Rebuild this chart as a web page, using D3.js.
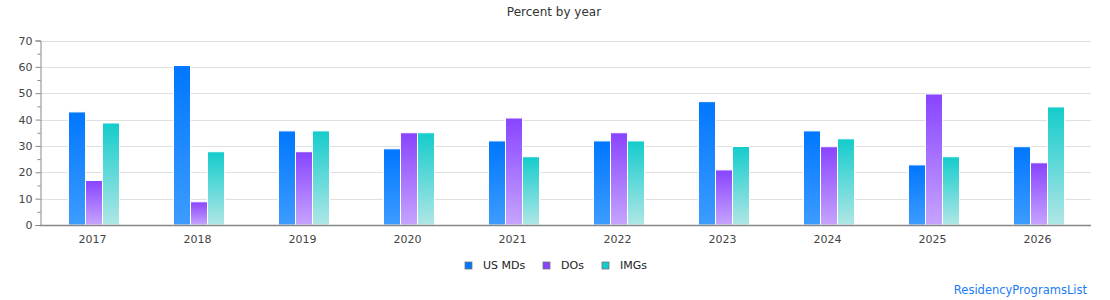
<!DOCTYPE html>
<html>
<head>
<meta charset="utf-8">
<script src="https://cdnjs.cloudflare.com/ajax/libs/d3/7.8.5/d3.min.js"></script>
<style>
  body { margin: 0; background: #fff; }
  text { font-family: "DejaVu Sans", Verdana, sans-serif; }
</style>
</head>
<body>
<script>
// data
var years = ["2017", "2018", "2019", "2020", "2021", "2022", "2023", "2024", "2025", "2026"];
var seriesNames = ["US MDs", "DOs", "IMGs"];
var usMDs = [42.9, 60.5, 35.7, 28.9, 31.9, 31.9, 46.8, 35.7, 22.8, 29.7];
var dOs   = [16.9, 8.8, 27.8, 35.0, 40.6, 35.0, 20.9, 29.7, 49.7, 23.6];
var imgs  = [38.7, 27.8, 35.7, 35.0, 25.9, 31.9, 29.8, 32.7, 25.9, 44.8];
var yTicks = [0, 10, 20, 30, 40, 50, 60, 70];

var width = 1110, height = 300;
var margin = {left: 40, right: 19, top: 40, bottom: 75};

//__colors: top and bottom of each gradient__//
var colors = [
  {top: "#0077ff", bottom: "#3d9cff", key: "#0077ff"},
  {top: "#8844ff", bottom: "#c6a4ff", key: "#8844ff"},
  {top: "#14cccc", bottom: "#b0e6e6", key: "#14cccc"}
];

var svg = d3.select("body").append("svg")
    .attr("width", width)
    .attr("height", height);

var defs = svg.append("defs");
colors.forEach(function(c, i) {
  var g = defs.append("linearGradient")
      .attr("id", "grad" + i)
      .attr("x1", 0).attr("y1", 0).attr("x2", 0).attr("y2", 1);
  g.append("stop").attr("offset", "0%").attr("stop-color", c.top);
  g.append("stop").attr("offset", "100%").attr("stop-color", c.bottom);
});

// band centres line up with the reference group centres
var x = d3.scaleBand()
    .domain(years)
    .range([41.5, 1091.5]);

var y = d3.scaleLinear()
    .domain([0, 70])
    .range([height - margin.bottom, margin.top + 0.5]);

var barW = 17;
var xs = d3.scaleBand()
    .domain(seriesNames)
    .range([-barW * 1.5, barW * 1.5]);

//__title__//
svg.append("text")
    .attr("x", 554)
    .attr("y", 16)
    .attr("text-anchor", "middle")
    .attr("font-size", "12px")
    .attr("fill", "#333")
    .text("Percent by year");

//__grid lines__//
svg.append("g").selectAll("line")
    .data(yTicks.slice(1))
    .enter().append("line")
    .attr("x1", margin.left)
    .attr("x2", width - margin.right)
    .attr("y1", function(d) { return Math.round(y(d)) + 0.5; })
    .attr("y2", function(d) { return Math.round(y(d)) + 0.5; })
    .attr("stroke", "#e0e0e0")
    .attr("stroke-width", 1);

//__bars__//
var series = [usMDs, dOs, imgs];
var groups = svg.append("g").selectAll("g")
    .data(years)
    .enter().append("g")
    .attr("transform", function(d) { return "translate(" + Math.round(x(d) + x.bandwidth() / 2) + ",0)"; });

groups.selectAll("rect")
    .data(function(d, i) { return series.map(function(s, k) { return {k: k, v: s[i]}; }); })
    .enter().append("rect")
    .attr("x", function(d) { return xs(seriesNames[d.k]); })
    .attr("width", barW)
    .attr("y", function(d) { return y(d.v); })
    .attr("height", function(d) { return y(0) - y(d.v); })
    .attr("fill", function(d) { return "url(#grad" + d.k + ")"; })
    .attr("stroke", "#fff")
    .attr("stroke-width", 1);

//__axes__//
var yAxis = d3.axisLeft(y)
    .tickValues(d3.range(0, 71, 5))
    .tickSize(5)
    .tickFormat(function(d) { return d % 10 === 0 ? d : ""; });

var ya = svg.append("g")
    .attr("transform", "translate(" + (margin.left + 0.5) + ",0)")
    .call(yAxis);
ya.select(".domain").attr("stroke", "#888");
ya.selectAll(".tick line").attr("stroke", "#888")
    .attr("x2", function(d) { return d % 10 === 0 ? -5 : -3; });
ya.selectAll(".tick text")
    .attr("font-size", "11px")
    .attr("fill", "#444")
    .attr("x", -8)
    .style("font-family", "DejaVu Sans, sans-serif");

var xAxis = d3.axisBottom(x).tickSize(0).tickPadding(10);
var xa = svg.append("g")
    .attr("transform", "translate(0," + (y(0) + 0.5) + ")")
    .call(xAxis);
xa.select(".domain").attr("stroke", "#888").attr("stroke-width", 1.5)
    .attr("d", "M40,0H1091");
xa.selectAll(".tick text")
    .attr("font-size", "11px")
    .attr("fill", "#444")
    .attr("dx", -1.5)
    .style("font-family", "DejaVu Sans, sans-serif");

//__legend__//
var legendX = [465, 543, 602];
var legend = svg.append("g").selectAll("g")
    .data(seriesNames)
    .enter().append("g")
    .attr("transform", function(d, i) { return "translate(" + legendX[i] + ",262)"; });
legend.append("rect")
    .attr("width", 7).attr("height", 7)
    .attr("fill", function(d, i) { return colors[i].key; })
    .attr("stroke", "#777")
    .attr("stroke-width", 0.8);
legend.append("text")
    .attr("x", 18)
    .attr("y", 7)
    .attr("font-size", "11px")
    .attr("fill", "#222")
    .text(function(d) { return d; });

//__source link__//
svg.append("text")
    .attr("x", 1087)
    .attr("y", 294)
    .attr("text-anchor", "end")
    .attr("font-size", "11.5px")
    .attr("fill", "#1a7cf5")
    .text("ResidencyProgramsList");
</script>
</body>
</html>
